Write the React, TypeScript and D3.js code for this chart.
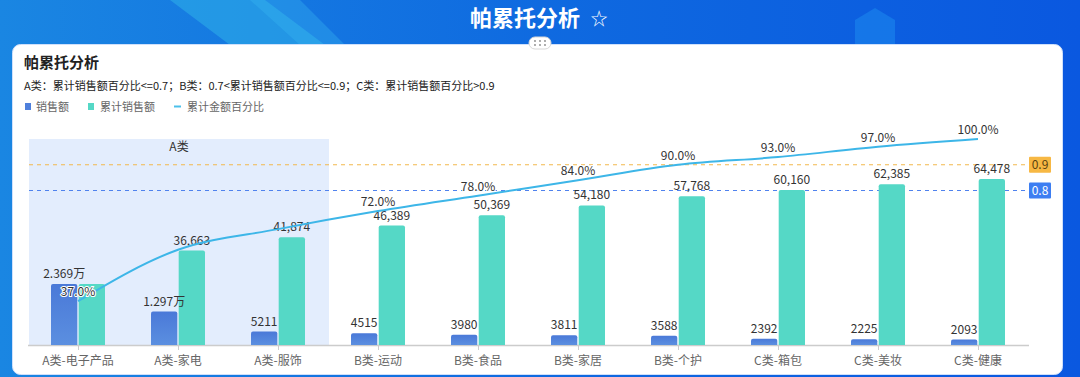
import React from 'react';
import * as d3 from 'd3';

const categories = ['A类-电子产品', 'A类-家电', 'A类-服饰', 'B类-运动', 'B类-食品', 'B类-家居', 'B类-个护', 'C类-箱包', 'C类-美妆', 'C类-健康'];
const sales = [23690, 12970, 5211, 4515, 3980, 3811, 3588, 2392, 2225, 2093];
const cumulative = [23690, 36663, 41874, 46389, 50369, 54180, 57768, 60160, 62385, 64478];
const cumPct = [0.37, 0.57, 0.65, 0.72, 0.78, 0.84, 0.9, 0.93, 0.97, 1.0];
const cumLabelVisible = [false, true, true, true, true, true, true, true, true, true];
const pctLabelVisible = [true, false, false, true, true, true, true, true, true, true];
const thresholds = [0.9, 0.8];
const seriesNames = ['销售额', '累计销售额', '累计金额百分比'];
const regionA = ['A类-电子产品', 'A类-服饰'];

const W = 1080;
const H = 377;
const FONT = '"Noto Sans CJK SC", "Noto Sans", sans-serif';

export default function App() {
  const left = 28, right = 1028, top = 139, bottom = 345;
  const x = d3.scaleBand<string>().domain(categories).range([left, right]).paddingInner(0).paddingOuter(0);
  const sub = d3.scaleBand<string>().domain(['s', 'c']).range([-27, 27]).paddingInner(0.05);
  const yBar = d3.scaleLinear().domain([0, 80000]).range([bottom, top]);
  const yPct = d3.scaleLinear().domain([0.2, 1.0]).range([bottom, top]);
  const cx = (c: string) => (x(c) as number) + x.bandwidth() / 2;

  const line = d3.line<number>()
    .x((_, i) => cx(categories[i]))
    .y((d) => yPct(d))
    .curve(d3.curveMonotoneX);

  const fmtSales = (v: number) => (v >= 10000 ? (v / 10000).toFixed(3) + '万' : String(v));
  const fmtCum = d3.format(',');
  const fmtPct = (v: number) => (v * 100).toFixed(1) + '%';

  const thrColors: Record<string, { line: string; box: string; text: string }> = {
    '0.9': { line: '#f2b94e', box: '#f7b844', text: '#5a4210' },
    '0.8': { line: '#4f82ee', box: '#3d7ef2', text: '#ffffff' },
  };

  const regionX0 = x(regionA[0]) as number;
  const regionX1 = (x(regionA[1]) as number) + x.bandwidth();

  return (
    <svg width={W} height={H} style={{ position: 'absolute', left: 0, top: 0, fontFamily: FONT }}>
      <defs>
        <linearGradient id="bg" x1="0" y1="0" x2="1" y2="0">
          <stop offset="0" stopColor="#1a86e2" />
          <stop offset="0.5" stopColor="#0f6ae0" />
          <stop offset="1" stopColor="#0a58e0" />
        </linearGradient>
        <linearGradient id="salesGrad" x1="0" y1="0" x2="0" y2="1">
          <stop offset="0" stopColor="#4a79d8" />
          <stop offset="1" stopColor="#5b8fe0" />
        </linearGradient>
      </defs>
      {/* page background */}
      <rect x={0} y={0} width={W} height={H} fill="url(#bg)" />
      <polygon points="170,0 265,0 345,60 250,60" fill="#2fb0ea" opacity={0.55} />
      <polygon points="250,0 300,0 345,45 300,45" fill="#38b8f0" opacity={0.35} />
      <polygon points="855,20 875,8 895,20 895,45 855,45" fill="#1d8ef0" opacity={0.5} />
      <text x={525} y={26} textAnchor="middle" fill="#ffffff" fontSize={22} fontWeight="bold">帕累托分析</text>
      <text x={599} y={25} textAnchor="middle" fill="#ffffff" fontSize={17}>☆</text>

      {/* card */}
      <rect x={12.5} y={44.5} width={1050} height={330} rx={8} fill="#ffffff" stroke="#cfe0fb" />
      <rect x={529} y={37} width={22} height={12} rx={6} fill="#ffffff" stroke="#d8d8d8" />
      {[0, 1, 2].map((i) => [0, 1].map((j) => (
        <circle key={`d${i}${j}`} cx={535 + i * 5} cy={41 + j * 4} r={0.9} fill="#888" />
      )))}

      <text x={24} y={68} fill="#222" fontSize={15} fontWeight="bold">帕累托分析</text>
      <text x={24} y={90} fill="#222" fontSize={11}>A类：累计销售额百分比&lt;=0.7；B类：0.7&lt;累计销售额百分比&lt;=0.9；C类：累计销售额百分比&gt;0.9</text>

      {/* legend */}
      <rect x={25} y={103} width={6} height={7} fill="#4f80dc" />
      <text x={36} y={110.5} fill="#666" fontSize={11}>{seriesNames[0]}</text>
      <rect x={88} y={103} width={6} height={7} fill="#55d8c6" />
      <text x={100} y={110.5} fill="#666" fontSize={11}>{seriesNames[1]}</text>
      <line x1={174} x2={181} y1={106.5} y2={106.5} stroke="#4cc0ea" strokeWidth={2} />
      <text x={187} y={110.5} fill="#666" fontSize={11}>{seriesNames[2]}</text>

      {/* A region */}
      <rect x={regionX0 + 1} y={top} width={regionX1 - regionX0} height={bottom - top} fill="#e3edfd" />
      <text x={(regionX0 + regionX1) / 2 + 1} y={151} textAnchor="middle" fill="#333" fontSize={12}>A类</text>

      {/* threshold lines */}
      {thresholds.map((t) => (
        <line key={`t${t}`} x1={left + 1} x2={right + 1} y1={yPct(t)} y2={yPct(t)}
          stroke={thrColors[String(t)].line} strokeWidth={1.2} strokeDasharray="4,4" />
      ))}

      {/* axis */}
      <line x1={left} x2={right + 1} y1={bottom + 0.5} y2={bottom + 0.5} stroke="#cccccc" strokeWidth={1.5} />
      {categories.map((c) => (
        <g key={`ax${c}`}>
          <line x1={cx(c) + 0.5} x2={cx(c) + 0.5} y1={bottom} y2={bottom + 5} stroke="#cccccc" />
          <text x={cx(c)} y={365} textAnchor="middle" fill="#666" fontSize={12}>{c}</text>
        </g>
      ))}

      {/* bars */}
      {categories.map((c, i) => {
        const xs = cx(c) + (sub('s') as number);
        const xc = cx(c) + (sub('c') as number);
        const bw = sub.bandwidth();
        return (
          <g key={`b${c}`}>
            <path d={roundTop(xs, yBar(sales[i]), bw, bottom - yBar(sales[i]), 2)} fill="url(#salesGrad)" />
            <path d={roundTop(xc, yBar(cumulative[i]), bw, bottom - yBar(cumulative[i]), 2)} fill="#55d8c6" />
            <text x={xs + bw / 2} y={yBar(sales[i]) - 6} textAnchor="middle" fill="#333" fontSize={12}>{fmtSales(sales[i])}</text>
            {cumLabelVisible[i] ? (
              <text x={xc + bw / 2} y={yBar(cumulative[i]) - 6} textAnchor="middle" fill="#333" fontSize={12}>{fmtCum(cumulative[i])}</text>
            ) : null}
          </g>
        );
      })}

      {/* cumulative percent line */}
      <path d={line(cumPct) || ''} fill="none" stroke="#3db6e8" strokeWidth={2} />
      {categories.map((c, i) => pctLabelVisible[i] ? (
        <text key={`p${c}`} x={cx(c)} y={yPct(cumPct[i]) - 5} textAnchor="middle" fill="#333" fontSize={12}
          stroke="#ffffff" strokeWidth={2} paintOrder="stroke">{fmtPct(cumPct[i])}</text>
      ) : null)}

      {/* threshold markers */}
      {thresholds.map((t) => (
        <g key={`m${t}`}>
          <rect x={1029} y={yPct(t) - 8} width={22} height={16} rx={1} fill={thrColors[String(t)].box} />
          <text x={1040} y={yPct(t) + 4.5} textAnchor="middle" fill={thrColors[String(t)].text} fontSize={12}>{String(t)}</text>
        </g>
      ))}
    </svg>
  );
}

function roundTop(x: number, y: number, w: number, h: number, r: number) {
  const rr = Math.min(r, h / 2, w / 2);
  return `M${x},${y + h} L${x},${y + rr} Q${x},${y} ${x + rr},${y} L${x + w - rr},${y} Q${x + w},${y} ${x + w},${y + rr} L${x + w},${y + h} Z`;
}
